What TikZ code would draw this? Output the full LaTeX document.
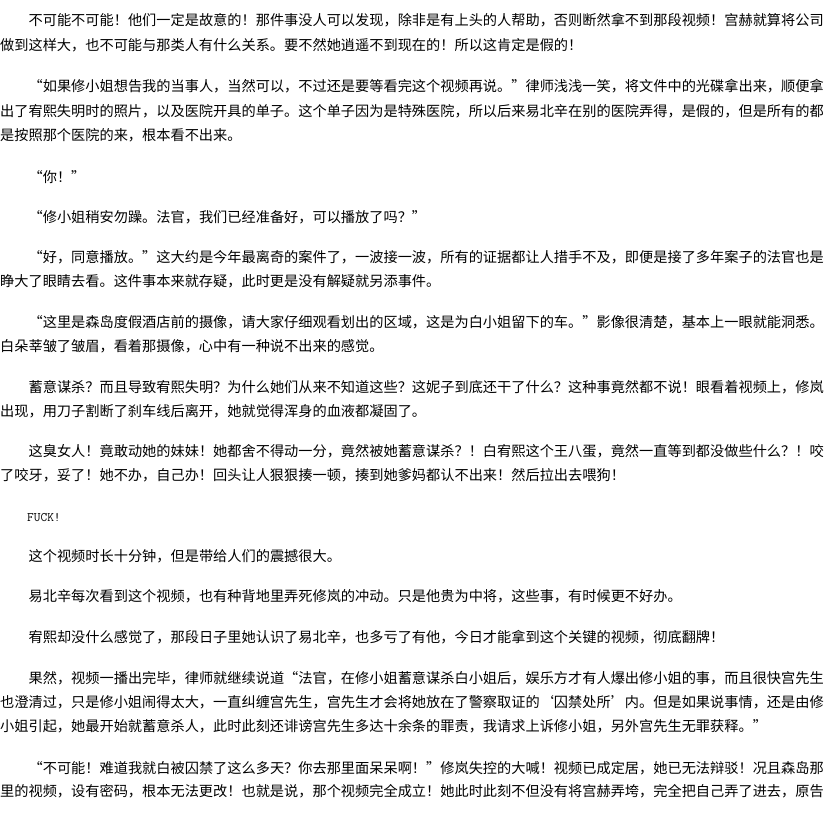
\documentclass[tikz,border=0pt]{standalone}
\usepackage{fontspec}
\setmainfont{Noto Sans CJK SC}
\usepackage{tikz}
\usetikzlibrary{positioning}
\tikzset{
    txt/.style = {anchor=west, inner sep=0pt, text height=0.88em, text depth=0.12em, font=\fontsize{14.2}{17}\selectfont},
    txtmono/.style = {anchor=west, inner sep=0pt, font=\ttfamily\fontsize{13}{15}\selectfont},
}
% full width quote marks
\newcommand\oq{\makebox[1em][r]{“}}
\newcommand\cq{\makebox[1em][l]{”}}
\newcommand\osq{\makebox[1em][r]{‘}}
\newcommand\csq{\makebox[1em][l]{’}}

\begin{document}
\begin{tikzpicture}[x=1pt,y=-1pt]
\useasboundingbox (0,0) rectangle (835,817);
%
\node[txt] at (28.4,22) (pa1) {不可能不可能！他们一定是故意的！那件事没人可以发现，除非是有上头的人帮助，否则断然拿不到那段视频！宫赫就算将公司};
\node[txt] at (0,47) (pa2) {做到这样大，也不可能与那类人有什么关系。要不然她逍遥不到现在的！所以这肯定是假的！};
%
\node[txt] at (28.4,88) (pb1) {\oq 如果修小姐想告我的当事人，当然可以，不过还是要等看完这个视频再说。\cq 律师浅浅一笑，将文件中的光碟拿出来，顺便拿};
\node[txt] at (0,113) (pb2) {出了宥熙失明时的照片，以及医院开具的单子。这个单子因为是特殊医院，所以后来易北辛在别的医院弄得，是假的，但是所有的都};
\node[txt] at (0,137) (pb3) {是按照那个医院的来，根本看不出来。};
%
\node[txt] at (28.4,179) (pc1) {\oq 你！\cq};
%
\node[txt] at (28.4,219) (pd1) {\oq 修小姐稍安勿躁。法官，我们已经准备好，可以播放了吗？\cq};
%
\node[txt] at (28.4,259) (pe1) {\oq 好，同意播放。\cq 这大约是今年最离奇的案件了，一波接一波，所有的证据都让人措手不及，即便是接了多年案子的法官也是};
\node[txt] at (0,283) (pe2) {睁大了眼睛去看。这件事本来就存疑，此时更是没有解疑就另添事件。};
%
\node[txt] at (28.4,324) (pf1) {\oq 这里是森岛度假酒店前的摄像，请大家仔细观看划出的区域，这是为白小姐留下的车。\cq 影像很清楚，基本上一眼就能洞悉。};
\node[txt] at (0,348) (pf2) {白朵莘皱了皱眉，看着那摄像，心中有一种说不出来的感觉。};
%
\node[txt] at (28.4,389) (pg1) {蓄意谋杀？而且导致宥熙失明？为什么她们从来不知道这些？这妮子到底还干了什么？这种事竟然都不说！眼看着视频上，修岚};
\node[txt] at (0,413) (pg2) {出现，用刀子割断了刹车线后离开，她就觉得浑身的血液都凝固了。};
%
\node[txt] at (28.4,453) (ph1) {这臭女人！竟敢动她的妹妹！她都舍不得动一分，竟然被她蓄意谋杀？！白宥熙这个王八蛋，竟然一直等到都没做些什么？！咬};
\node[txt] at (0,477) (ph2) {了咬牙，妥了！她不办，自己办！回头让人狠狠揍一顿，揍到她爹妈都认不出来！然后拉出去喂狗！};
%
\node[txtmono] at (27,518) (pi1) {FUCK!};
%
\node[txt] at (28.4,558) (pj1) {这个视频时长十分钟，但是带给人们的震撼很大。};
%
\node[txt] at (28.4,598) (pk1) {易北辛每次看到这个视频，也有种背地里弄死修岚的冲动。只是他贵为中将，这些事，有时候更不好办。};
%
\node[txt] at (28.4,639) (pl1) {宥熙却没什么感觉了，那段日子里她认识了易北辛，也多亏了有他，今日才能拿到这个关键的视频，彻底翻牌！};
%
\node[txt] at (28.4,680) (pm1) {果然，视频一播出完毕，律师就继续说道\oq 法官，在修小姐蓄意谋杀白小姐后，娱乐方才有人爆出修小姐的事，而且很快宫先生};
\node[txt] at (0,704) (pm2) {也澄清过，只是修小姐闹得太大，一直纠缠宫先生，宫先生才会将她放在了警察取证的\osq 囚禁处所\csq 内。但是如果说事情，还是由修};
\node[txt] at (0,728) (pm3) {小姐引起，她最开始就蓄意杀人，此时此刻还诽谤宫先生多达十余条的罪责，我请求上诉修小姐，另外宫先生无罪获释。\cq};
%
\node[txt] at (28.4,770) (pn1) {\oq 不可能！难道我就白被囚禁了这么多天？你去那里面呆呆啊！\cq 修岚失控的大喊！视频已成定居，她已无法辩驳！况且森岛那};
\node[txt] at (0,793) (pn2) {里的视频，设有密码，根本无法更改！也就是说，那个视频完全成立！她此时此刻不但没有将宫赫弄垮，完全把自己弄了进去，原告};
\end{tikzpicture}
\end{document}
